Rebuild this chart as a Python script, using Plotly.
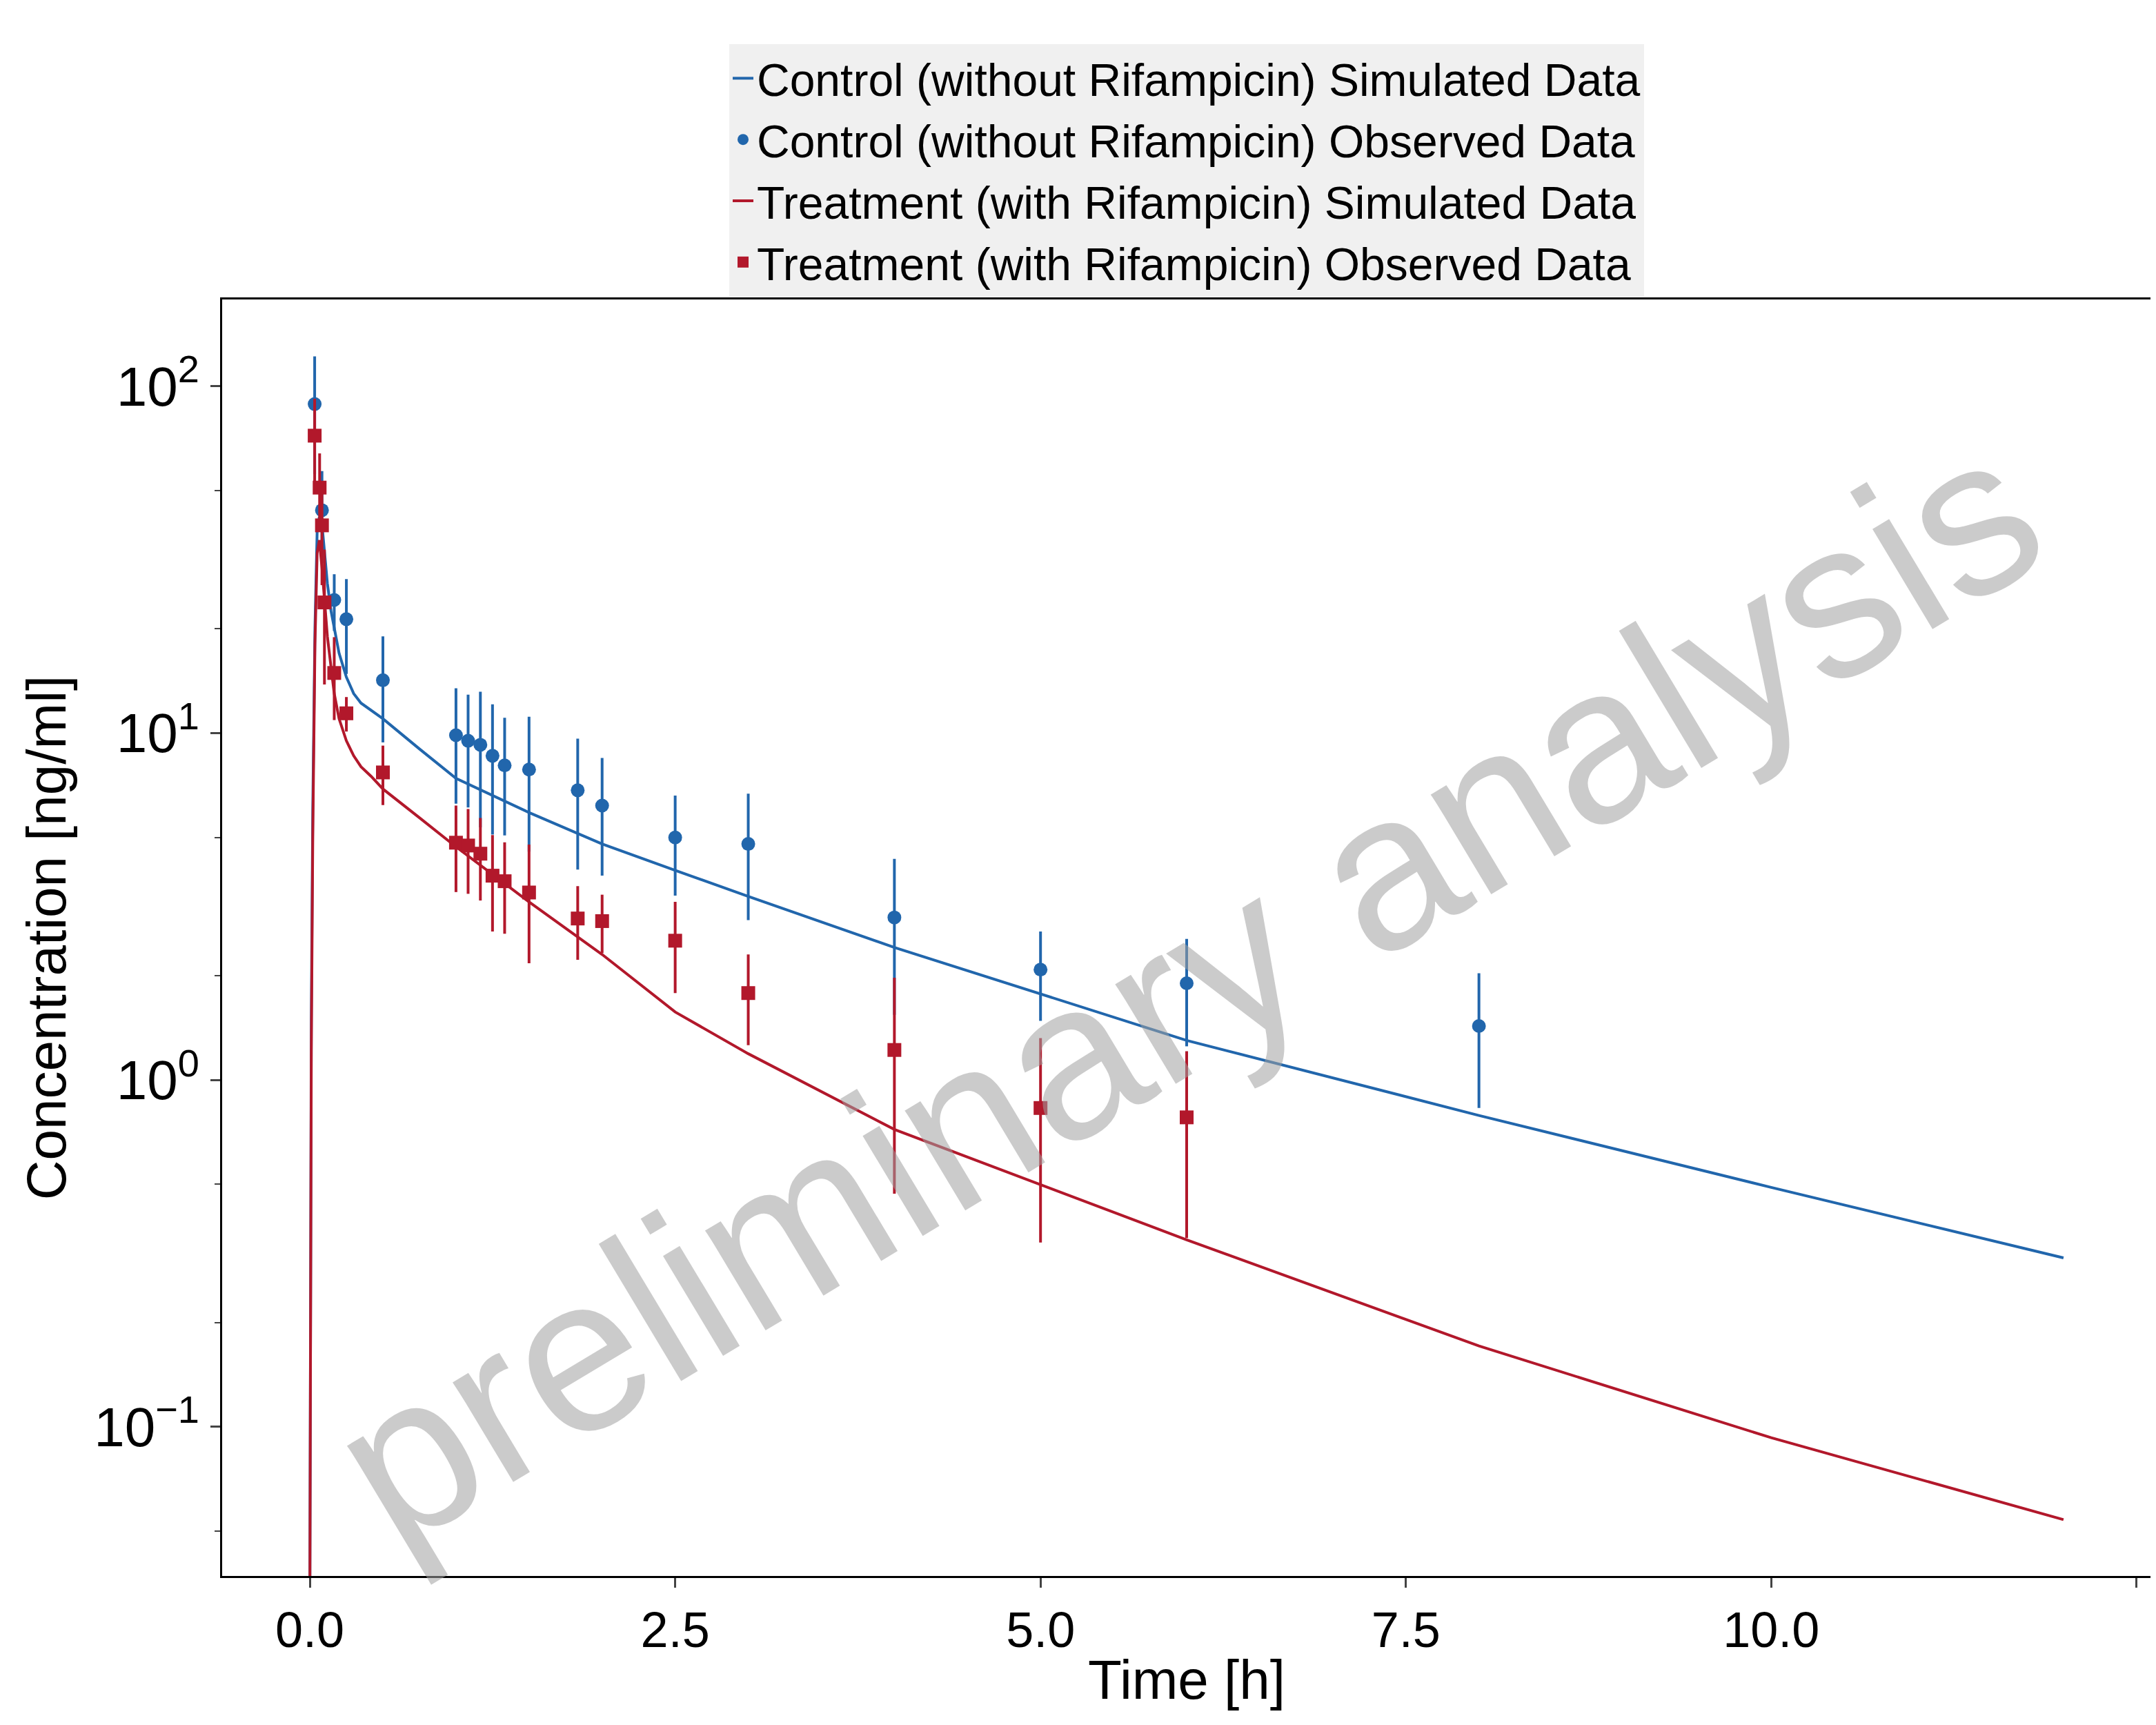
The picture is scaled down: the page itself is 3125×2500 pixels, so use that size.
import plotly.graph_objects as go

# simulated profiles
sim_t = [0.0, 0.01, 0.02, 0.035, 0.05, 0.065, 0.083, 0.1, 0.12, 0.145, 0.167, 0.2, 0.25, 0.3, 0.35, 0.42, 0.5, 0.75, 1.0, 1.5, 2.0, 2.5, 3.0, 4.0, 5.0, 6.0, 8.0, 10.0, 12.0]
ctrl_sim = [0.03, 1.5, 6.0, 20.0, 38.0, 42.0, 40.0, 33.0, 27.0, 22.5, 20.0, 17.0, 14.5, 13.0, 12.2, 11.6, 11.0, 9.0, 7.4, 5.9, 4.79, 4.02, 3.38, 2.41, 1.77, 1.30, 0.79, 0.49, 0.307]
trt_sim = [0.03, 1.2, 5.0, 18.0, 33.0, 36.0, 30.0, 24.0, 19.0, 15.5, 13.0, 11.0, 9.5, 8.6, 8.0, 7.5, 6.9, 5.7, 4.7, 3.26, 2.3, 1.57, 1.19, 0.72, 0.50, 0.346, 0.171, 0.093, 0.054]

# observed data (mean, sd)
ctrl_t = [0.033, 0.083, 0.167, 0.25, 0.5, 1.0, 1.083, 1.167, 1.25, 1.333, 1.5, 1.833, 2.0, 2.5, 3.0, 4.0, 5.0, 6.0, 8.0]
ctrl_obs = [88.8, 43.9, 24.2, 21.3, 14.2, 9.86, 9.5, 9.25, 8.6, 8.07, 7.85, 6.84, 6.18, 5.0, 4.79, 2.94, 2.08, 1.90, 1.43]
ctrl_sd = [33, 13, 4.5, 6.5, 4.8, 3.6, 3.4, 3.9, 3.5, 3.0, 3.3, 2.8, 2.3, 1.6, 1.9, 1.4, 0.6, 0.65, 0.6]

trt_t = [0.033, 0.067, 0.083, 0.1, 0.167, 0.25, 0.5, 1.0, 1.083, 1.167, 1.25, 1.333, 1.5, 1.833, 2.0, 2.5, 3.0, 4.0, 5.0, 6.0]
trt_obs = [72, 51, 39.7, 23.8, 14.9, 11.4, 7.7, 4.83, 4.74, 4.49, 3.88, 3.74, 3.47, 2.92, 2.87, 2.52, 1.78, 1.22, 0.83, 0.78]
trt_sd = [20, 13, 13, 10, 4, 1.3, 1.5, 1.35, 1.3, 1.2, 1.2, 1.1, 1.3, 0.7, 0.55, 0.74, 0.52, 0.75, 0.49, 0.43]

blue = "#2166ac"
red = "#b2182b"

fig = go.Figure()
fig.add_trace(go.Scatter(x=sim_t, y=ctrl_sim, mode="lines", line=dict(color=blue, width=4),
                         name="Control (without Rifampicin) Simulated Data"))
fig.add_trace(go.Scatter(x=ctrl_t, y=ctrl_obs, mode="markers", marker=dict(color=blue, size=20, symbol="circle"),
                         error_y=dict(type="data", array=ctrl_sd, color=blue, thickness=4, width=0),
                         name="Control (without Rifampicin) Observed Data"))
fig.add_trace(go.Scatter(x=sim_t, y=trt_sim, mode="lines", line=dict(color=red, width=4),
                         name="Treatment (with Rifampicin) Simulated Data"))
fig.add_trace(go.Scatter(x=trt_t, y=trt_obs, mode="markers", marker=dict(color=red, size=20, symbol="square"),
                         error_y=dict(type="data", array=trt_sd, color=red, thickness=4, width=0),
                         name="Treatment (with Rifampicin) Observed Data"))

fig.add_annotation(text="preliminary analysis", x=0.5, y=0.46, xref="paper", yref="paper",
                   showarrow=False, textangle=-31, font=dict(size=320, color="rgba(160,160,160,0.55)"))

fig.update_layout(
    width=3125, height=2500, plot_bgcolor="white", paper_bgcolor="white",
    font=dict(family="Liberation Sans", size=66, color="black"),
    margin=dict(l=314, r=13, t=426, b=224),
    legend=dict(orientation="v", x=0.5, y=1.2, xanchor="center", yanchor="top",
                bgcolor="#f0f0f0", font=dict(size=66), tracegroupgap=0),
    xaxis=dict(title=dict(text="Time [h]", font=dict(size=80), standoff=5), range=[-0.6, 12.6],
               tickvals=[0, 2.5, 5, 7.5, 10, 12.5], ticktext=["0.0", "2.5", "5.0", "7.5", "10.0", "12.5"],
               showline=True, linecolor="black", linewidth=3, mirror=True, ticks="outside",
               ticklen=14, tickwidth=3, showgrid=False, zeroline=False, tickfont=dict(size=72)),
    yaxis=dict(title=dict(text="Concentration [ng/ml]", font=dict(size=80)), type="log", range=[-1.43, 2.25],
               tickvals=[0.1, 1, 10, 100],
               ticktext=["10<sup>\u22121</sup>", "10<sup>0</sup>", "10<sup>1</sup>", "10<sup>2</sup>"],
               showline=True, linecolor="black", linewidth=3, mirror=True, ticks="outside",
               ticklen=14, tickwidth=3, showgrid=False, zeroline=False, tickfont=dict(size=80),
               minor=dict(ticks="outside", ticklen=8, tickwidth=2, dtick="D2", showgrid=False)),
)

fig.write_html("out.html")
